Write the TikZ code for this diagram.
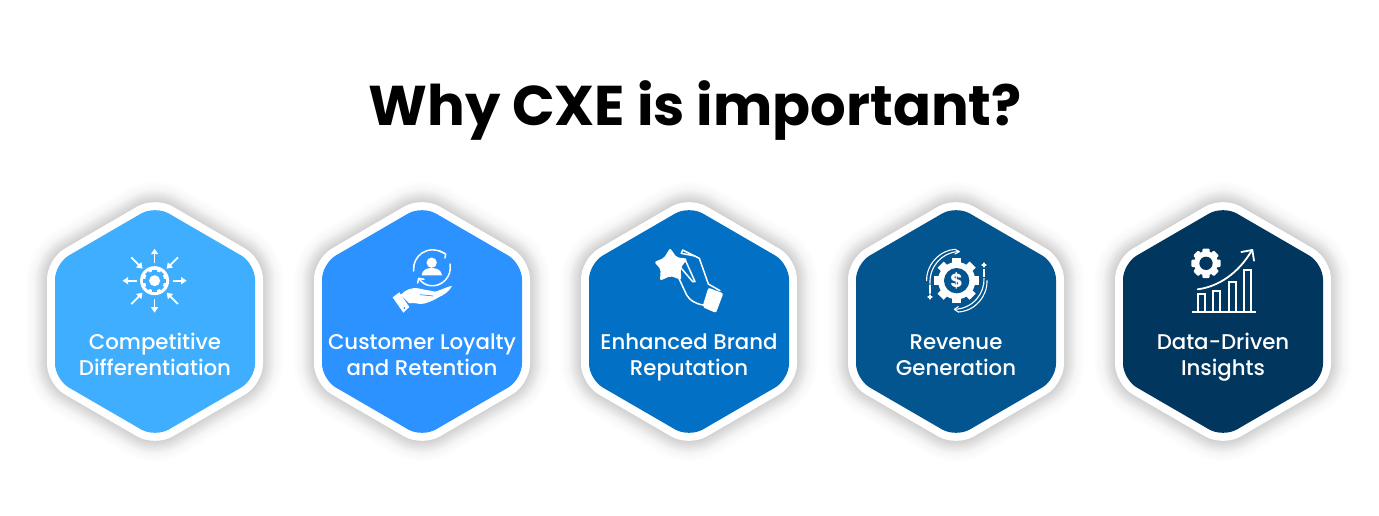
\documentclass[tikz,border=0pt]{standalone}
\usepackage{fontspec}
\setmainfont{Poppins}
\newfontfamily\titlefont{Poppins}[UprightFont=* Bold]
\newfontfamily\labelfont{Poppins}[UprightFont=* Medium]
\usetikzlibrary{arrows.meta}
\definecolor{hexa}{HTML}{3FAEFF}
\definecolor{hexb}{HTML}{2B92FF}
\definecolor{hexc}{HTML}{0270C4}
\definecolor{hexd}{HTML}{02558F}
\definecolor{hexe}{HTML}{01365F}
\tikzset{
  labeltext/.style={text=white,font=\labelfont\fontsize{21.3}{26}\selectfont,align=center,inner sep=0pt},
  titletext/.style={text=black,font=\titlefont\fontsize{56}{66}\selectfont,inner sep=0pt},
  iconline/.style={draw=white,line width=1.8pt,line cap=round,line join=round},
  iconmid/.style={draw=white,line width=1.5pt,line cap=round,line join=round},
  iconthin/.style={draw=white,line width=1.1pt,line cap=round,line join=round},
  barline/.style={draw=white,line width=2.1pt,line cap=butt,line join=miter},
  arrowline/.style={draw=white,line width=1.7pt,-{Triangle[length=5.5pt,width=7pt]}},
}
\newcommand{\hexoutline}[1]{(#1-100,321.5) -- (#1-100,263.5) -- (#1,205.5) -- (#1+100,263.5) -- (#1+100,379.5) -- (#1,437.5) -- (#1-100,379.5) -- cycle}
\newcommand{\hexbg}[2]{%
  \foreach \w in {18,20,...,58}{
    \draw[draw=black,opacity=0.0045,line width=\w pt,line join=round,rounded corners=16pt] \hexoutline{#1};
  }
  \foreach \w in {18,20,...,40}{
    \draw[draw=black,opacity=0.006,line width=\w pt,line join=round,rounded corners=16pt] \hexoutline{#1};
  }
  \draw[draw=white,fill=#2,line width=16pt,line join=round,rounded corners=16pt] \hexoutline{#1};
  \fill[#2,rounded corners=16pt] \hexoutline{#1};
}
\begin{document}
\begin{tikzpicture}[x=1pt,y=-1pt]
\useasboundingbox (0,0) rectangle (1379,516);
\fill[white] (0,0) rectangle (1379,516);
\node[titletext] (title) at (695,110.5) {Why CXE is important?};
\hexbg{155}{hexa}
\hexbg{422}{hexb}
\hexbg{689}{hexc}
\hexbg{956}{hexd}
\hexbg{1223}{hexe}
\node[labeltext] (l1) at (155,357.3) {\strut Competitive\\\strut Differentiation};
\node[labeltext] (l2) at (422,357.3) {\strut Customer Loyalty\\\strut and Retention};
\node[labeltext] (l3) at (689,357.3) {\strut Enhanced Brand\\\strut Reputation};
\node[labeltext] (l4) at (956,357.3) {\strut Revenue\\\strut Generation};
\node[labeltext] (l5) at (1223,357.3) {\strut Data-Driven\\\strut Insights};
% icon 1
\begin{scope}[shift={(154.6,280.7)}]
  \fill[white] (0,0) circle (14.5);
  \fill[hexa] (0,0) circle (9.6);
  \foreach \a in {0,45,...,315}{\fill[hexa,rotate=\a] (-2.2,-8) rectangle (2.2,-11.2);}
  \fill[white] (0,0) circle (5.5);
  \foreach \a in {0,90,180,270}{\draw[arrowline,rotate=\a] (0,-18) -- (0,-32);}
  \foreach \a in {45,135,225,315}{\draw[arrowline,rotate=\a] (0,-33) -- (0,-17);}
\end{scope}
% icon 2
\begin{scope}[shift={(370,240)},scale=1/3]
  \fill[white] (185,68) circle (15.5);
  \fill[white] (155,106) .. controls (156,90) and (170,84) .. (185,84) .. controls (200,84) and (214,90) .. (216,106) -- cycle;
  \draw[iconmid] (131,93) .. controls (126,50) and (172,8) .. (227,42);
  \draw[iconmid] (207,32) -- (227,42) -- (225,54);
  \draw[iconmid] (240,72) .. controls (247,110) and (215,142) .. (180,137) .. controls (167,135) and (155,128) .. (146,115);
  \draw[iconmid] (143,129) -- (146,115) -- (162,118);
  \fill[white] (68,172) -- (88,157) -- (118,201) -- (100,218) -- cycle;
  \fill[hexb] (103,204) circle (3);
  \fill[white] (92,165) .. controls (105,150) and (125,140) .. (150,146) .. controls (165,150) and (185,152) .. (195,155) .. controls (215,150) and (235,138) .. (246,138) .. controls (240,152) and (222,165) .. (205,172) .. controls (185,185) and (165,192) .. (150,192) .. controls (140,190) and (128,188) .. (118,190) -- cycle;
  \draw[hexb,line width=0.7pt] (150,164) -- (190,168);
\end{scope}
% icon 3
\begin{scope}[shift={(640,240)},scale=1/3]
  \draw[iconmid] (124,40) -- (128,30) -- (178,55) -- (205,132) -- (240,152);
  \draw[iconmid] (124,40) -- (165,48);
  \draw[iconmid] (135,58) -- (165,125) -- (158,125) -- (118,78);
  \draw[iconmid] (112,105) -- (140,165) .. controls (150,182) and (165,190) .. (188,195);
  \fill[white,rounded corners=2pt] (90,24) -- (110,52) -- (142,56) -- (122,84) -- (124,120) -- (92,108) -- (60,122) -- (62,88) -- (43,66) -- (72,54) -- cycle;
  \fill[white,rounded corners=2pt] (205,143) -- (250,160) -- (228,219) -- (187,201) -- cycle;
\end{scope}
% icon 4
\begin{scope}[shift={(910,240)},scale=1/3]
  \foreach \a in {0,45,...,315}{\fill[white,rotate around={\a:(140,122)}] (127,54) rectangle (153,80);}
  \fill[white] (140,122) circle (56);
  \fill[hexd] (140,122) circle (38);
  \node[text=white,font=\titlefont\fontsize{19}{20}\selectfont,inner sep=0pt] (dollar) at (140,122) {\$};
  \draw[iconthin] (60,130) .. controls (58,80) and (95,38) .. (143,35);
  \draw[iconthin] (50,122) .. controls (48,75) and (90,30) .. (135,28);
  \draw[iconthin] (135,28) -- (148,35) -- (135,42);
  \draw[iconthin] (60,135) -- (60,160) (54,171) -- (66,171) (60,165) -- (60,177);
  \draw[iconthin] (222,115) .. controls (224,160) and (190,205) .. (135,208);
  \draw[iconthin] (231,122) .. controls (232,170) and (195,213) .. (145,216);
  \draw[iconthin] (145,216) -- (133,208) -- (145,200);
  \draw[iconthin] (222,110) -- (222,88) (216,75) -- (228,75) (222,69) -- (222,81);
\end{scope}
% icon 5
\begin{scope}[shift={(1175,240)},scale=1/3]
  \foreach \a in {0,45,...,315}{\fill[white,rounded corners=1pt,rotate around={\a:(93,70)}] (82,26) rectangle (104,50);}
  \fill[white] (93,70) circle (36);
  \fill[hexe] (93,70) circle (20);
  \draw[barline] (52,215) -- (243,215);
  \draw[barline] (69,213) -- (69,163) -- (89,163) -- (89,213);
  \draw[barline] (115,213) -- (115,153) -- (136,153) -- (136,213);
  \draw[barline] (161,213) -- (161,126) -- (182,126) -- (182,213);
  \draw[barline] (206,213) -- (206,91) -- (229,91) -- (229,213);
  \draw[iconline] (68,148) .. controls (130,140) and (190,100) .. (230,32);
  \draw[iconline] (199,36) -- (232,30) -- (237,62);
\end{scope}
\end{tikzpicture}
\end{document}
